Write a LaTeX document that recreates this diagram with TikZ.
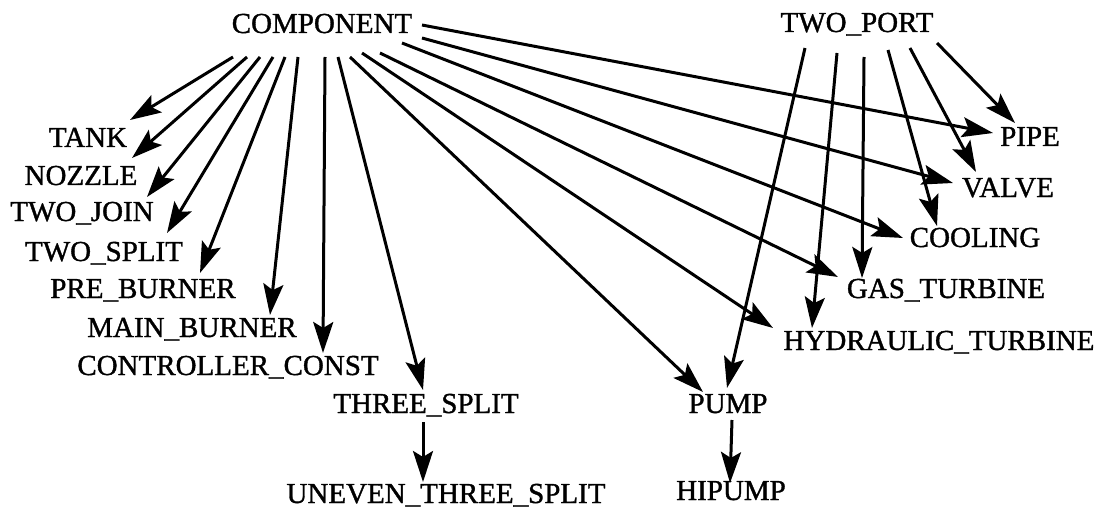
\documentclass[tikz,border=0pt]{standalone}
\usepackage{fontspec}
\setmainfont[FakeBold=1.2]{Liberation Serif}
\usetikzlibrary{arrows.meta}
\begin{document}
\begin{tikzpicture}[x=1pt,y=-1pt,line join=round,>={Stealth[length=31pt,width=20pt,inset=6pt]},line width=3pt]
			\tikzset{every node/.style={inner sep=0pt,anchor=base,font=\fontsize{29}{34}\selectfont}}
			\useasboundingbox (0,0) rectangle (1099,513);
			\node (comp) at (322,33) {COMPONENT};
			\node (twoport) at (857,32) {TWO\_PORT};
			\node (tank) at (88,147) {TANK};
			\node (nozzle) at (81,185) {NOZZLE};
			\node (twojoin) at (82,221) {TWO\_JOIN};
			\node (twosplit) at (104,261) {TWO\_SPLIT};
			\node (preburner) at (143,298) {PRE\_BURNER};
			\node (mainburner) at (192,337) {MAIN\_BURNER};
			\node (ctrlconst) at (228,375) {CONTROLLER\_CONST};
			\node (threesplit) at (426,413) {THREE\_SPLIT};
			\node (uneven) at (446,503) {UNEVEN\_THREE\_SPLIT};
			\node (pump) at (728,413) {PUMP};
			\node (hipump) at (731,500) {HIPUMP};
			\node (hydturb) at (939,350) {HYDRAULIC\_TURBINE};
			\node (gasturb) at (946,298) {GAS\_TURBINE};
			\node (cooling) at (975,247) {COOLING};
			\node (valve) at (1008,197) {VALVE};
			\node (pipe) at (1030,146) {PIPE};
			\foreach \tgt/\sx/\sy/\ex/\ey in {tank/-89/24/42/-27,nozzle/-75/24/51/-27,twojoin/-62/24/65/-24,
					twosplit/-49/24/63/-28,preburner/-37/24/57/-25,mainburner/-24/24/78/-22,ctrlconst/3/24/95/-22,
					threesplit/16/24/-3/-23,pump/28/24/-25/-21,hydturb/40/20/-166/-22,gasturb/58/20/-108/-21,
					cooling/80/10/-72/-9,valve/100/5/-55/-14,pipe/100/-8/-37/-13}{
					\draw[->] ([shift={(\sx,\sy)}]comp.base)--([shift={(\ex,\ey)}]\tgt.base);
				}
			\foreach \tgt/\sx/\sy/\ex/\ey in {pump/-52/16/-1/-25,hydturb/-20/21/-127/-22,gasturb/7/25/-84/-20,
					cooling/31/18/-38/-21,valve/53/16/-32/-25,pipe/80/11/-15/-23}{
					\draw[->] ([shift={(\sx,\sy)}]twoport.base)--([shift={(\ex,\ey)}]\tgt.base);
				}
			\draw[->] ([shift={(-3,9)}]threesplit.base)--([shift={(-23,-21)}]uneven.base);
			\draw[->] ([shift={(4,7)}]pump.base)--([shift={(-1,-17)}]hipump.base);
		\end{tikzpicture}
\end{document}
